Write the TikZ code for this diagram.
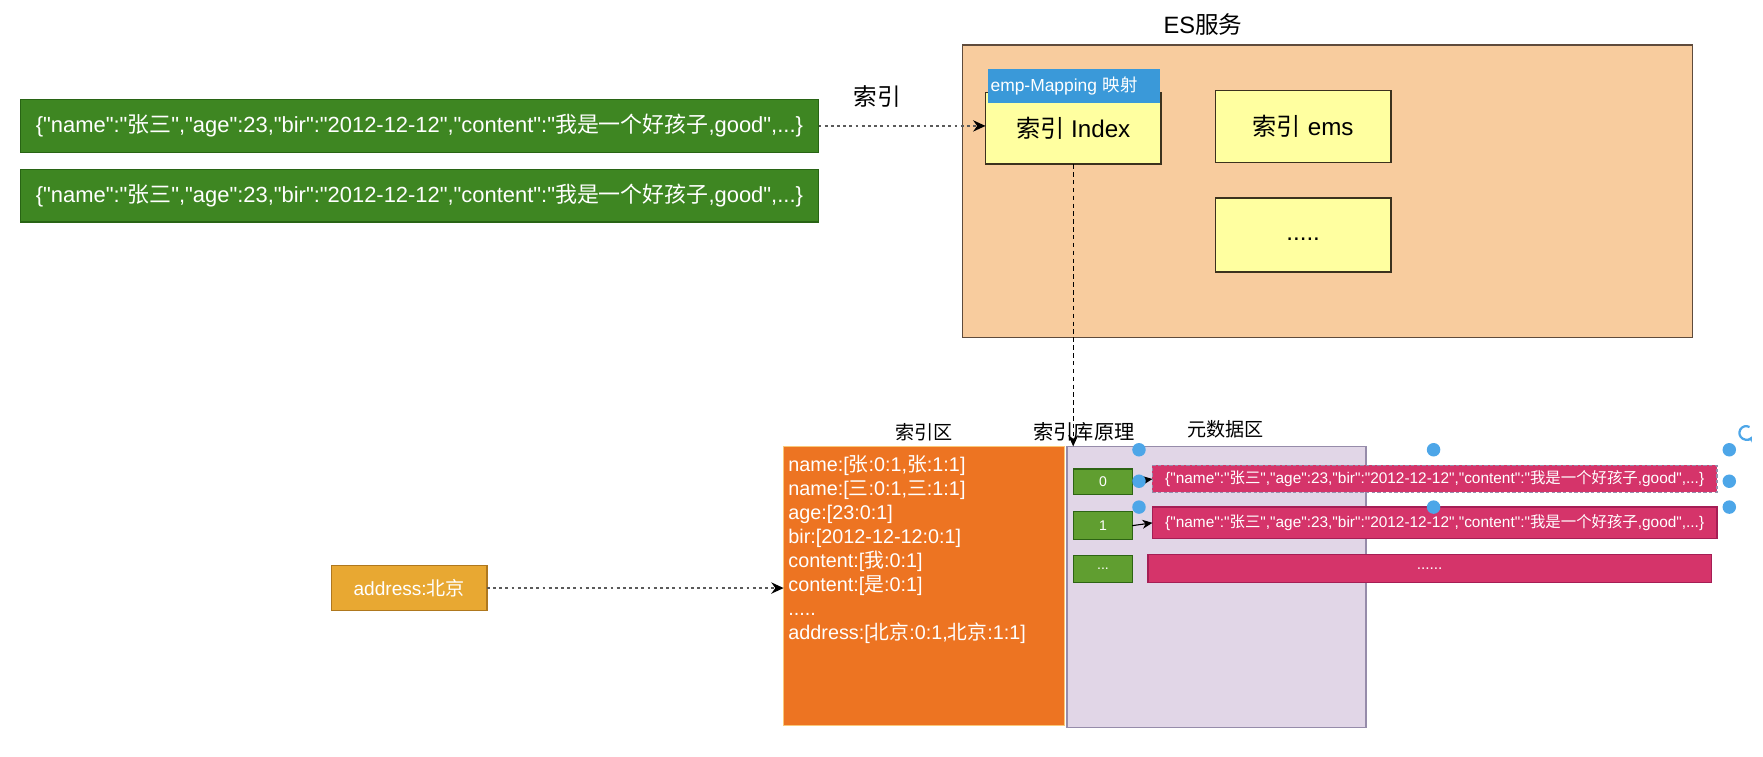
\documentclass[tikz,border=0pt]{standalone}
\usepackage{fontspec}
\newfontfamily\latf{Liberation Sans}
\newfontfamily\cjkf{Noto Sans CJK SC}
\newcommand\zh[1]{{\cjkf #1}}
\newcommand\fsz[2]{\fontsize{#1}{#2}\selectfont}
\usetikzlibrary{arrows.meta}
\definecolor{gbig}{RGB}{62,134,34}
\definecolor{gbigb}{RGB}{40,100,20}
\definecolor{peach}{RGB}{248,204,158}
\definecolor{peachb}{RGB}{95,75,60}
\definecolor{yel}{RGB}{255,255,160}
\definecolor{yelb}{RGB}{60,50,30}
\definecolor{hblue}{RGB}{58,153,217}
\definecolor{orng}{RGB}{237,116,34}
\definecolor{orngb}{RGB}{250,200,120}
\definecolor{purp}{RGB}{225,214,231}
\definecolor{purpb}{RGB}{150,140,170}
\definecolor{gsm}{RGB}{96,158,48}
\definecolor{gsmb}{RGB}{45,100,20}
\definecolor{pink}{RGB}{213,52,106}
\definecolor{pinkb}{RGB}{165,30,85}
\definecolor{addr}{RGB}{232,168,50}
\definecolor{addrb}{RGB}{175,120,30}
\definecolor{handle}{RGB}{77,166,232}
\definecolor{dotg}{RGB}{90,90,90}
\begin{document}
\latf
\begin{tikzpicture}[x=1pt,y=-1pt,
  box/.style={draw, rectangle, inner sep=0pt, outer sep=0pt, line width=1.2pt},
  json/.style={box, fill=gbig, draw=gbigb, text=white, minimum width=710pt, minimum height=47pt, font=\fsz{19.5}{22}},
  rowbox/.style={box, fill=pink, draw=pinkb, text=white, minimum width=502pt, font=\fsz{13.7}{15}},
  numbox/.style={box, fill=gsm, draw=gsmb, text=white, minimum width=52pt, font=\fsz{12.5}{14}},
  yelbox/.style={box, fill=yel, draw=yelb, minimum width=156pt, minimum height=64pt, font=\fsz{21.5}{24}},
  lbl/.style={inner sep=0pt, font=\fsz{17}{20}},
  dotarrow/.style={draw=dotg, line width=1.6pt, dash pattern=on 2.5pt off 3pt, -{Stealth[length=11pt,width=10pt,color=black]}},
  dasharrow/.style={draw=black, line width=1.2pt, dash pattern=on 4pt off 3pt, -{Stealth[length=10pt,width=9pt]}},
  solidarrow/.style={draw=black, line width=1pt, -{Stealth[length=9pt,width=8pt]}},
  hdl/.style={circle, fill=handle, inner sep=0pt, minimum size=12pt}
]
\useasboundingbox (0,0) rectangle (1568,673);
% left json records
\node[json] (g1) at (373,112) {\{"name":"\zh{张三}","age":23,"bir":"2012-12-12","content":"\zh{我是一个好孩子},good",...\}};
\node[json] (g2) at (373,174) {\{"name":"\zh{张三}","age":23,"bir":"2012-12-12","content":"\zh{我是一个好孩子},good",...\}};
% ES service
\node[lbl, font=\fsz{21}{24}] (estitle) at (1070,22) {ES\zh{服务}};
\node[box, fill=peach, draw=peachb, minimum width=649pt, minimum height=260pt] (es) at (1180.5,170) {};
\node[yelbox] (idx) at (954.5,114) {\zh{索引} Index};
\node[box, fill=hblue, draw=hblue, minimum width=152pt, minimum height=29pt, text=white, font=\fsz{15.5}{17}, align=left, text width=148pt] (hdr) at (955,76.5) {emp-Mapping \zh{映射}};
\node[yelbox] (ems) at (1159,112.5) {\zh{索引} ems};
\node[yelbox, minimum height=66pt] (more) at (1159,209) {};
\node[inner sep=0pt, font=\fsz{21.5}{24}, anchor=base] (moretxt) at ([yshift=-5pt]more.center) {.....};
\node[lbl, font=\fsz{21}{24}] (lblidx) at (780,86) {\zh{索引}};
% bottom areas
\node[lbl] (lbla) at (822,384) {\zh{索引区}};
\node[lbl] (lblb) at (1090,382) {\zh{元数据区}};
\node[box, fill=purp, draw=purpb, minimum width=266pt, minimum height=250pt] (meta) at (1082,522) {};
\node[box, fill=orng, draw=orngb, minimum width=250pt, minimum height=248pt] (inv) at (822,521) {};
\node[anchor=north west, inner sep=0pt, text=white, align=left, font=\fsz{17.6}{21.3}] (invtxt) at (701,405) {name:[\zh{张}:0:1,\zh{张}:1:1]\\name:[\zh{三}:0:1,\zh{三}:1:1]\\age:[23:0:1]\\bir:[2012-12-12:0:1]\\content:[\zh{我}:0:1]\\content:[\zh{是}:0:1]\\.....\\address:[\zh{北京}:0:1,\zh{北京}:1:1]};
\node[numbox, minimum height=23pt] (n0) at (981,428.5) {0};
\node[numbox, minimum height=25pt] (n1) at (981,467.5) {1};
\node[numbox, minimum height=24pt] (n2) at (981,506) {...};
\node[rowbox, minimum height=24pt, dash pattern=on 3pt off 2pt, draw=purpb] (r0) at (1276,426) {\{"name":"\zh{张三}","age":23,"bir":"2012-12-12","content":"\zh{我是一个好孩子},good",...\}};
\node[rowbox, minimum height=28pt] (r1) at (1276,465) {\{"name":"\zh{张三}","age":23,"bir":"2012-12-12","content":"\zh{我是一个好孩子},good",...\}};
\node[rowbox, minimum height=25pt, minimum width=501pt] (r2) at (1271.5,505.5) {......};
\node[box, fill=addr, draw=addrb, minimum width=138pt, minimum height=40pt, text=white, font=\fsz{17}{20}] (ad) at (364,523) {address:\zh{北京}};
% connectors
\draw[dotarrow] (g1.east) -- (g1.east -| idx.west);
\draw[dasharrow] (idx.south) -- (idx.south |- meta.north);
\node[lbl, font=\fsz{18}{20}] (lblc) at (964,384) {\zh{索引库原理}};
\draw[dotarrow] (ad.east) -- (ad.east -| inv.west);
\draw[solidarrow] (n0.east) -- (r0.west);
\draw[solidarrow] (n1.east) -- (r1.west);
% selection handles
\node[hdl] (h1) at (1013,400) {};
\node[hdl] (h2) at (1275,400) {};
\node[hdl] (h3) at (1538,400) {};
\node[hdl] (h4) at (1013,428) {};
\node[hdl] (h5) at (1538,428) {};
\node[hdl] (h6) at (1013,451) {};
\node[hdl] (h7) at (1275,451) {};
\node[hdl] (h8) at (1538,451) {};
\coordinate (rot) at (1553,385);
\draw[handle, line width=2pt, -{Stealth[length=5pt,width=5pt]}] ([shift={(60:6pt)}]rot) arc[start angle=60, end angle=330, radius=6pt];
\end{tikzpicture}
\end{document}
